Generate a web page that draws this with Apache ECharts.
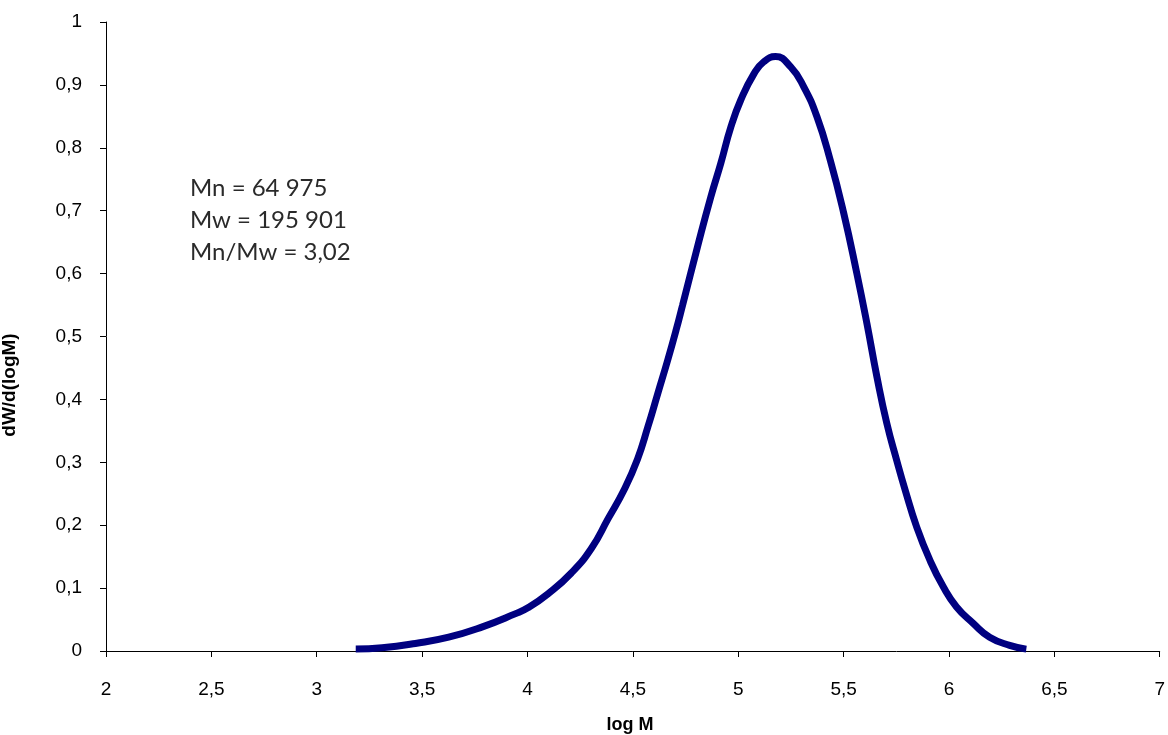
<!DOCTYPE html>
<html lang="en">
<head>
	<meta charset="UTF-8">
	<title>Molar mass distribution</title>
	<style>
		html, body { margin: 0; padding: 0; background: #fff; }
	</style>
</head>
<body>
	<div id="container" style="width: 1168px;height:735px;"></div>

	<script src="https://cdn.jsdelivr.net/npm/echarts@6/dist/echarts.min.js"></script>
	<script>
        // values
        var logM = [3.185, 3.31, 3.468, 3.626, 3.783, 3.941, 4.004, 4.098, 4.208,
            4.303, 4.382, 4.461, 4.522, 4.571, 4.618, 4.665, 4.705, 4.736, 4.807,
            4.870, 4.917, 4.965, 5.012, 5.075, 5.122, 5.177, 5.248, 5.311, 5.374,
            5.437, 5.5, 5.563, 5.611, 5.658, 5.705, 5.752, 5.792, 5.847, 5.910,
            5.973, 6.036, 6.115, 6.193, 6.288, 6.367];
        var dWdlogM = [0.003, 0.005, 0.012, 0.022, 0.038, 0.059, 0.069, 0.091, 0.124,
            0.163, 0.21, 0.258, 0.305, 0.356, 0.409, 0.462, 0.51, 0.55, 0.643,
            0.722, 0.775, 0.833, 0.876, 0.918, 0.937, 0.945, 0.929, 0.897, 0.849,
            0.78, 0.697, 0.6, 0.52, 0.436, 0.362, 0.303, 0.256, 0.197, 0.144,
            0.102, 0.07, 0.044, 0.022, 0.009, 0.003];
        var statLines = ['Mn = 64 975', 'Mw = 195 901', 'Mn/Mw = 3,02'];

        var points = [];
        for (var i = 0; i < logM.length; i++) {
            points.push([logM[i], dWdlogM[i]]);
        }

        function comma(v) {
            return String(v).replace('.', ',');
        }

        var axisCommon = {
            axisLine: { show: true, lineStyle: { color: '#000', width: 1 } },
            axisTick: { show: true, inside: false, length: 6, lineStyle: { color: '#000' } },
            splitLine: { show: false },
            axisLabel: {
                color: '#000',
                fontFamily: 'Liberation Sans, Arial, sans-serif',
                fontSize: 19,
                formatter: comma
            }
        };

        var option = {
            animation: false,
            grid: { left: 106, right: 4, top: 22, bottom: 84 },
            xAxis: Object.assign({}, axisCommon, {
                type: 'value',
                min: 2,
                max: 7,
                interval: 0.5,
                axisLabel: Object.assign({}, axisCommon.axisLabel, { margin: 29 })
            }),
            yAxis: Object.assign({}, axisCommon, {
                type: 'value',
                min: 0,
                max: 1,
                interval: 0.1,
                axisLabel: Object.assign({}, axisCommon.axisLabel, { margin: 24 })
            }),
            graphic: [
                {
                    type: 'text',
                    left: 190,
                    top: 172,
                    style: {
                        text: statLines.join('\n'),
                        font: '24px Lato, "Open Sans", sans-serif',
                        lineHeight: 32,
                        fill: '#2a2a2a'
                    }
                },
                {
                    type: 'text',
                    x: 10,
                    y: 385,
                    rotation: Math.PI / 2,
                    style: {
                        text: 'dW/d(logM)',
                        font: 'bold 19px "Liberation Sans", Arial, sans-serif',
                        fill: '#000',
                        align: 'center',
                        verticalAlign: 'middle'
                    }
                },
                {
                    type: 'text',
                    x: 630,
                    y: 716,
                    style: {
                        text: 'log M',
                        font: 'bold 18px "Liberation Sans", Arial, sans-serif',
                        fill: '#000',
                        align: 'center',
                        verticalAlign: 'top'
                    }
                }
            ],
            series: [{
                type: 'line',
                data: points,
                smooth: 0.5,
                showSymbol: false,
                lineStyle: { color: '#000080', width: 7 },
                itemStyle: { color: '#000080' }
            }]
        };

        var myChart = echarts.init(document.getElementById('container'));
        myChart.setOption(option);
    </script>
</body>
</html>
